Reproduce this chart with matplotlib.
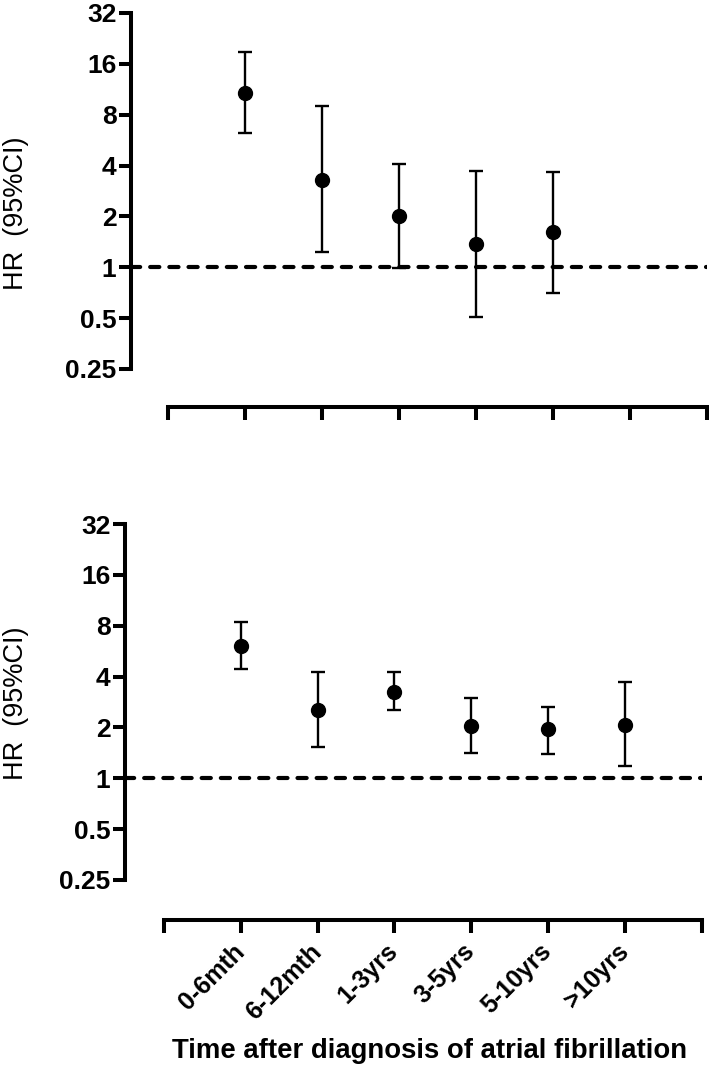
"""HR by time after AF diagnosis - two panel forest style plot"""
import numpy as np
import matplotlib
matplotlib.use("Agg")
import matplotlib.pyplot as plt

plt.rcParams["font.family"] = ["Liberation Sans", "DejaVu Sans"]

#Time periods (x categories)
periods = ["0-6mth", "6-12mth", "1-3yrs", "3-5yrs", "5-10yrs", ">10yrs"]

#Top panel: hazard ratio with 95% CI (no estimate for >10yrs)
top_hr = [10.8, 3.3, 2.0, 1.37, 1.61]
top_lo = [6.27, 1.23, 0.99, 0.507, 0.70]
top_hi = [18.8, 9.05, 4.1, 3.73, 3.64]

#Bottom panel
bot_hr = [6.1, 2.55, 3.26, 2.05, 1.95, 2.08]
bot_lo = [4.46, 1.54, 2.55, 1.42, 1.39, 1.19]
bot_hi = [8.4, 4.28, 4.28, 2.97, 2.66, 3.74]

yticks = [0.25, 0.5, 1, 2, 4, 8, 16, 32]
ytick_labels = ["0.25", "0.5", "1", "2", "4", "8", "16", "32"]

W, H = 709, 1067
fig = plt.figure(figsize=(W / 100, H / 100), dpi=100)


def panel(rect, hr, lo, hi, xmin, yoff, show_labels):
    ax = fig.add_axes(rect)
    x = np.arange(1, len(hr) + 1)
    hr = np.array(hr)
    err = [hr - np.array(lo), np.array(hi) - hr]
    ax.errorbar(x, hr, yerr=err, fmt="o", color="black", ms=10,
                elinewidth=1.7, capsize=5, capthick=1.7, zorder=3)
    #reference line at HR = 1
    ax.axhline(1, color="black", lw=3.0, ls=(0, (2.2, 2.4)),
               dash_capstyle="round", zorder=2)

    ax.set_yscale("log", base=2)
    ax.set_ylim(0.25, 32)
    ax.minorticks_off()
    ax.set_xlim(xmin, 7)

    for s in ["top", "right"]:
        ax.spines[s].set_visible(False)
    ax.spines["left"].set_linewidth(2.9)
    ax.spines["bottom"].set_linewidth(2.9)
    ax.spines["bottom"].set_position(("outward", yoff))
    ax.spines["bottom"].set_bounds(0, 7)
    ax.tick_params(axis="y", length=9, width=2.9, pad=1.5)
    ax.tick_params(axis="x", length=9, width=2.9, pad=11)

    ax.set_yticks(yticks)
    ax.set_yticklabels(ytick_labels, fontsize=19, fontweight="bold")
    ax.set_xticks(range(8))
    if show_labels:
        ax.set_xticklabels([""] + periods + [""], rotation=45, ha="right",
                           va="center", rotation_mode="anchor",
                           fontsize=18, fontweight="bold")
    else:
        ax.set_xticklabels([])
    return ax


#top panel: spine at x=131px, x-axis 168-707px
panel([131 / W, 1 - 369 / H, 576 / W, 356 / H], top_hr, top_lo, top_hi,
      -0.48, 27.4, False)
#bottom panel
panel([125 / W, 1 - 880 / H, 577 / W, 356 / H], bot_hr, bot_lo, bot_hi,
      -0.505, 28.8, True)

fig.text(16 / W, 1 - 213 / H, "HR  (95%CI)", rotation=90, ha="center",
         va="center", fontsize=19.5)
fig.text(16 / W, 1 - 703 / H, "HR  (95%CI)", rotation=90, ha="center",
         va="center", fontsize=19.5)
fig.text(430 / W, 1 - 1051 / H, "Time after diagnosis of atrial fibrillation",
         ha="center", va="center", fontsize=19.8, fontweight="bold")

fig.savefig("out.png", dpi=100)
